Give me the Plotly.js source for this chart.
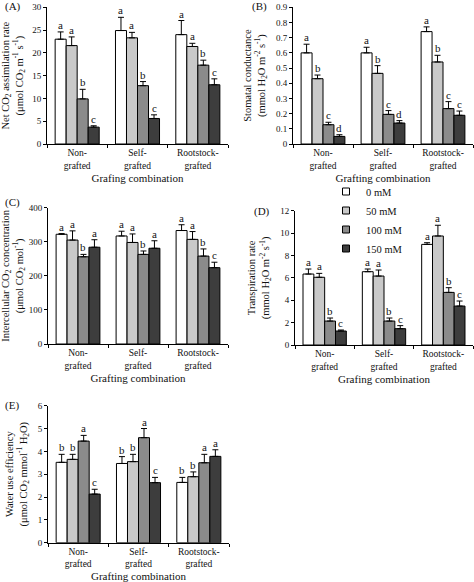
<!DOCTYPE html>
<html>
<head>
<meta charset="utf-8">
<script src="https://cdn.plot.ly/plotly-3.0.1.min.js"></script>
<style>html,body{margin:0;padding:0;background:#fff;}#chart{width:474px;height:582px;}</style>
</head>
<body>
<div id="chart"></div>
<script>
// Categories and series
const groups = ['Non-<br>grafted', 'Self-<br>grafted', 'Rootstock-<br>grafted'];
const treatments = ['0 mM', '50 mM', '100 mM', '150 mM'];

// (A) Net CO2 assimilation rate: rows = treatments, columns = groups
const pnMean = [[23.0, 24.9, 24.0], [21.6, 23.3, 21.4], [9.9, 12.8, 17.3], [3.7, 5.6, 13.0]];
const pnSE   = [[1.6, 2.9, 3.1], [1.9, 1.2, 0.7], [2.1, 0.9, 1.1], [0.3, 0.8, 1.3]];
const pnLetters = [['a','a','a'], ['a','a','a'], ['b','b','b'], ['c','c','c']];

// (B) Stomatal conductance
const gsMean = [[0.60, 0.60, 0.74], [0.43, 0.465, 0.54], [0.127, 0.195, 0.233], [0.05, 0.138, 0.189]];
const gsSE   = [[0.057, 0.037, 0.031], [0.024, 0.051, 0.044], [0.016, 0.025, 0.046], [0.011, 0.016, 0.028]];
const gsLetters = [['a','a','a'], ['b','b','b'], ['c','c','c'], ['d','d','c']];

// (C) Intercellular CO2 concentration
const ciMean = [[322, 317, 333], [305, 298, 307], [256, 263, 258], [284, 281, 224]];
const ciSE   = [[2, 14, 17], [27, 25, 23], [7, 10, 21], [22, 22, 16]];
const ciLetters = [['a','a','a'], ['a','a','a'], ['b','b','b'], ['a','a','c']];

// (D) Transpiration rate
const trMean = [[6.34, 6.55, 8.99], [6.05, 6.16, 9.74], [2.14, 2.14, 4.70], [1.25, 1.46, 3.48]];
const trSE   = [[0.45, 0.24, 0.15], [0.35, 0.54, 0.96], [0.27, 0.27, 0.42], [0.09, 0.27, 0.45]];
const trLetters = [['a','a','a'], ['a','a','a'], ['b','b','b'], ['c','c','c']];

// (E) Water use efficiency
const wueMean = [[3.52, 3.47, 2.64], [3.65, 3.55, 2.89], [4.45, 4.60, 3.50], [2.13, 2.63, 3.78]];
const wueSE   = [[0.35, 0.30, 0.22], [0.22, 0.32, 0.21], [0.25, 0.40, 0.37], [0.21, 0.23, 0.29]];
const wueLetters = [['b','b','b'], ['b','b','b'], ['a','a','a'], ['c','c','a']];

// Styling
const FONT = 'Liberation Serif, Times New Roman, serif';
const fills = ['#ffffff', '#c9c9c9', '#8b8b8b', '#3d3d3d'];
const BARGAP = 0.27;
const W = 474, H = 582;

const panels = [
  {id: '', label: '(A)', mean: pnMean, se: pnSE, letters: pnLetters, range: [0, 30], dtick: 5,
   px: [47, 228], py: [7.3, 144], lab: [3, 7], xstand: 4,
   ytitle: 'Net CO<sub>2</sub> assimilation rate<br>(μmol CO<sub>2</sub> m<sup>-1</sup> s<sup>-1</sup>)',
   xtitle: 'Grafing combination'},
  {id: '2', label: '(B)', mean: gsMean, se: gsSE, letters: gsLetters, range: [0, 0.9], dtick: 0.1,
   px: [293, 473], py: [7.3, 144], lab: [250, 7], xstand: 4,
   ytitle: 'Stomatal conductance<br>(mmol H<sub>2</sub>O m<sup>-2</sup> s<sup>-1</sup>)',
   xtitle: 'Grafting combination'},
  {id: '3', label: '(C)', mean: ciMean, se: ciSE, letters: ciLetters, range: [0, 400], dtick: 100,
   px: [48, 228], py: [207.7, 344], lab: [3, 202], xstand: 4,
   ytitle: 'Intercellular CO<sub>2</sub> concentration<br>(μmol CO<sub>2</sub> mol<sup>-1</sup>)',
   xtitle: 'Grafting combination'},
  {id: '4', label: '(D)', mean: trMean, se: trSE, letters: trLetters, range: [0, 12], dtick: 2,
   px: [295, 473], py: [210.7, 345], lab: [252, 211], xstand: 4,
   ytitle: 'Transpiration rate<br>(mmol H<sub>2</sub>O m<sup>-2</sup> s<sup>-1</sup>)',
   xtitle: 'Grafing combination', legend: true},
  {id: '5', label: '(E)', mean: wueMean, se: wueSE, letters: wueLetters, range: [0, 6], dtick: 1,
   px: [48, 229], py: [405.7, 542.7], lab: [3, 405], xstand: 15,
   ytitle: 'Water use efficiency<br>(μmol CO<sub>2</sub> mmol<sup>-1</sup> H<sub>2</sub>O)',
   xtitle: 'Grafting combination'}
];

const data = [];
const annotations = [];
const layout = {
  width: W, height: H,
  margin: {l: 0, r: 0, t: 0, b: 0},
  paper_bgcolor: '#ffffff', plot_bgcolor: '#ffffff',
  font: {family: FONT, color: '#111', size: 10},
  barmode: 'group', bargap: BARGAP, bargroupgap: 0,
  showlegend: true,
  legend: {x: 326 / W, y: 1 - 177 / H, xanchor: 'left', yanchor: 'top',
           font: {family: FONT, size: 10.5, color: '#111'}, bgcolor: 'rgba(0,0,0,0)',
           tracegroupgap: 0, itemwidth: 30, borderwidth: 0},
  annotations: annotations
};

const bw = (1 - BARGAP) / treatments.length;

panels.forEach(p => {
  const xa = 'x' + p.id, ya = 'y' + p.id;
  treatments.forEach((t, i) => {
    data.push({
      type: 'bar', name: t, x: groups, y: p.mean[i],
      xaxis: xa, yaxis: ya,
      marker: {color: fills[i], line: {color: '#000', width: 1}},
      error_y: {type: 'data', symmetric: false, array: p.se[i], arrayminus: p.mean[i].map(() => 0),
                color: '#000', thickness: 1, width: 3},
      showlegend: false, legendgroup: t
    });
    groups.forEach((g, j) => {
      annotations.push({
        xref: xa, yref: ya, x: j + (i - 1.5) * bw, y: p.mean[i][j] + p.se[i][j],
        text: p.letters[i][j], showarrow: false, yanchor: 'bottom', xanchor: 'center', yshift: -1,
        font: {family: FONT, size: 11, color: '#111'}
      });
    });
  });
  annotations.push({xref: 'paper', yref: 'paper', x: p.lab[0] / W, y: 1 - p.lab[1] / H,
    xanchor: 'left', yanchor: 'middle', text: p.label, showarrow: false,
    font: {family: FONT, size: 11, color: '#111'}});
  layout['xaxis' + p.id] = {
    domain: [p.px[0] / W, p.px[1] / W], anchor: ya, type: 'category',
    range: [-0.5, 2.5], showline: true, linecolor: '#000', linewidth: 1,
    ticks: 'outside', tickson: 'boundaries', ticklen: 3, tickcolor: '#000',
    tickfont: {family: FONT, size: 9.5, color: '#111'}, showgrid: false, zeroline: false,
    title: {text: p.xtitle, font: {family: FONT, size: 11, color: '#111'}, standoff: p.xstand}
  };
  layout['yaxis' + p.id] = {
    domain: [1 - p.py[1] / H, 1 - p.py[0] / H], anchor: xa,
    range: p.range, dtick: p.dtick, tick0: 0, showline: true, linecolor: '#000', linewidth: 1,
    ticks: 'outside', ticklen: 3, tickcolor: '#000', showgrid: false, zeroline: false,
    tickfont: {family: FONT, size: 9, color: '#111'},
    title: {text: p.ytitle, font: {family: FONT, size: 10.5, color: '#111'}, standoff: 8}
  };
});

// Legend entries (small outlined squares like the reference), linked to the bar series by legendgroup
treatments.forEach((t, i) => {
  data.push({
    type: 'scatter', mode: 'markers', name: t, x: [null], y: [null], xaxis: 'x4', yaxis: 'y4',
    legendgroup: t, showlegend: true, hoverinfo: 'skip',
    marker: {symbol: 'square', size: 7, color: fills[i], line: {color: '#000', width: 1}}
  });
});

Plotly.newPlot('chart', data, layout, {displayModeBar: false, staticPlot: true});
</script>
</body>
</html>
